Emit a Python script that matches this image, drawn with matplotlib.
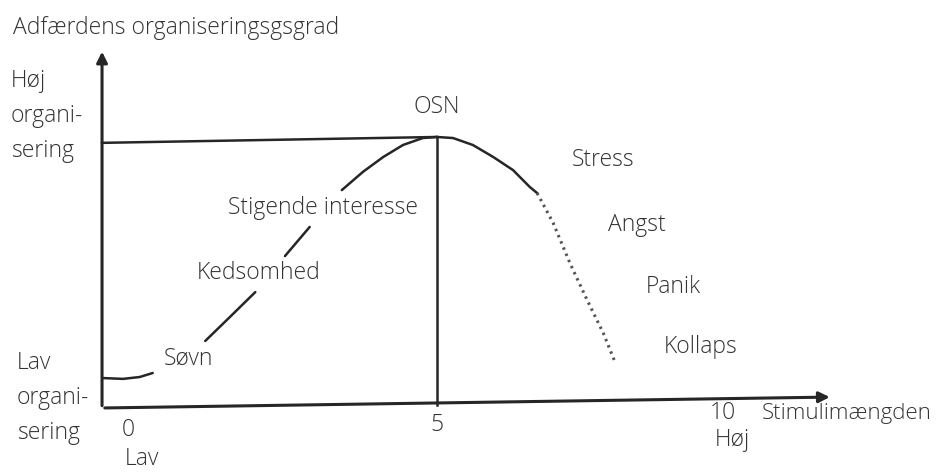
import matplotlib
matplotlib.use("Agg")
import matplotlib.pyplot as plt

plt.rcParams['font.family'] = ['Open Sans', 'DejaVu Sans']
plt.rcParams['font.weight'] = 'light'

# curve pieces (x = stimulus, y = degree of organisation)
sleep_x = [-0.40, -0.08, 0.19, 0.40]
sleep_y = [1.12, 1.09, 1.16, 1.31]
bored_x = [1.25, 1.65, 2.06]
bored_y = [2.51, 3.41, 4.34]
slash_x = [2.54, 2.94]
slash_y = [5.69, 6.78]
rise_x = [3.46, 3.80, 4.13, 4.45, 4.77, 5.00]
rise_y = [8.16, 8.84, 9.40, 9.85, 10.11, 10.15]
fall_x = [5.00, 5.26, 5.58, 5.91, 6.23, 6.50, 6.62]
fall_y = [10.15, 10.11, 9.85, 9.40, 8.91, 8.28, 8.05]
dot_x = [6.62, 6.88, 7.15, 7.43, 7.69, 7.88]
dot_y = [8.05, 6.93, 5.43, 4.04, 2.81, 1.72]

ticks = ["0", "5", "10"]
tick_x = [0, 5, 9.62]
tick_y = [-0.82, -0.64, -0.19]
stress_labels = ["Stress", "Angst", "Panik", "Kollaps"]

ink = "#262626"
txt = "#333333"
fs = 16.5

fig = plt.figure(figsize=(9.45, 4.75), dpi=100)
ax = fig.add_axes([0, 0, 1, 1])
ax.set_xlim(-2.071, 13.22)
ax.set_ylim(-2.51, 15.28)
ax.axis("off")

# axes with arrows
ax.annotate("", xy=(-0.42, 13.45), xytext=(-0.42, -0.02),
            arrowprops=dict(arrowstyle="-|>", color=ink, lw=2.2, mutation_scale=16))
ax.annotate("", xy=(11.4, 0.41), xytext=(-0.42, 0.0),
            arrowprops=dict(arrowstyle="-|>", color=ink, lw=2.2, mutation_scale=16))

# optimum guide lines
ax.plot([-0.42, 5.0], [9.93, 10.15], color=ink, lw=1.8)
ax.plot([5.0, 5.0], [0.1, 10.15], color=ink, lw=1.8)

# curve
for xs, ys in [(sleep_x, sleep_y), (bored_x, bored_y), (slash_x, slash_y),
               (rise_x, rise_y), (fall_x, fall_y)]:
    ax.plot(xs, ys, color=ink, lw=1.8, solid_capstyle="round",
            solid_joinstyle="round")
ax.plot(dot_x, dot_y, color="#555555", lw=2.2, linestyle=(0, (0.8, 1.4)))

# labels
ax.text(-1.86, 14.23, "Adfærdens organiseringsgsgrad", fontsize=fs, color=txt,
        ha="left", va="center")
ax.text(-1.9, 10.94, "Høj\norgani-\nsering", fontsize=fs, color=txt,
        ha="left", va="center", linespacing=1.62)
ax.text(-1.8, 0.37, "Lav\norgani-\nsering", fontsize=fs, color=txt,
        ha="left", va="center", linespacing=1.62)
for lab, xv, yv in zip(ticks, tick_x, tick_y):
    ax.text(xv, yv, lab, fontsize=fs, color=txt, ha="center", va="center")
ax.text(0.23, -1.9, "Lav", fontsize=fs, color=txt, ha="center", va="center")
ax.text(9.78, -1.2, "Høj", fontsize=fs, color=txt, ha="center", va="center")
ax.text(10.26, -0.19, "Stimulimængden", fontsize=16, color=txt,
        ha="left", va="center")
ax.text(5.0, 11.28, "OSN", fontsize=fs, color=txt, ha="center", va="center")
ax.text(0.98, 1.84, "Søvn", fontsize=fs, color=txt, ha="center", va="center")
ax.text(2.12, 5.06, "Kedsomhed", fontsize=fs, color=txt, ha="center", va="center")
ax.text(3.16, 7.49, "Stigende interesse", fontsize=fs, color=txt,
        ha="center", va="center")
for lab, px, py in zip(stress_labels, [7.69, 8.24, 8.83, 9.26],
                       [9.29, 6.86, 4.53, 2.28]):
    ax.text(px, py, lab, fontsize=fs, color=txt, ha="center", va="center")

fig.savefig("out.png", dpi=100, facecolor="white")
